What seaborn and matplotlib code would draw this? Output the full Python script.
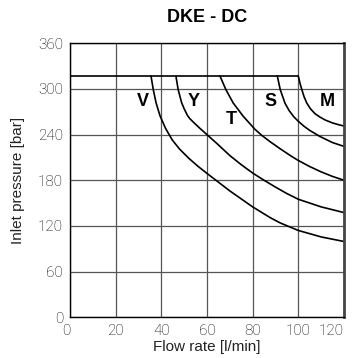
import numpy as np
import pandas as pd
import matplotlib
matplotlib.use("Agg")
import matplotlib.pyplot as plt
import seaborn as sns

# pressure limit line (relief setting)
limit_x = [0, 100]
limit_y = [317, 317]

# curves
v_x = [35.5, 36.0, 36.5, 37.7, 39.4, 41.9, 44.8, 48, 52, 56, 60, 63.5, 70, 80, 87.6, 92, 100, 110, 120]
v_y = [317, 308, 299, 282, 265, 248, 233, 221, 209, 198.5, 189, 181, 166, 145, 131, 124, 114, 105.5, 99.5]
y_x = [46.4, 47.4, 48.9, 50, 51.5, 52.5, 54, 57, 60, 65, 70, 75, 80, 85, 90, 95, 100, 110, 120]
y_y = [317, 299, 282, 274, 265, 261, 256.5, 248, 240, 226.5, 212.5, 200.5, 189.5, 180, 171, 162.5, 155, 145, 137.5]
t_x = [65.7, 68.3, 71.5, 75.9, 81, 84, 87.5, 92, 97, 100, 105, 110, 115, 120]
t_y = [317, 299, 281.5, 264, 247, 239, 231, 221.5, 211.5, 206, 198, 191, 185, 180]
s_x = [90.8, 92.1, 94.2, 96, 98, 100, 102.5, 105, 109.5, 115, 120]
s_y = [317, 299, 281, 271.5, 263.5, 257.5, 251, 245.5, 237.5, 229.5, 224.5]
m_x = [100, 100.7, 101.5, 102.5, 103.7, 105.3, 107.3, 109.5, 111.7, 115, 118.3, 120]
m_y = [317, 308, 299.5, 290, 281.5, 274, 267.5, 263, 259.3, 255.3, 252.5, 251.3]

labels = ["V", "Y", "T", "S", "M"]
label_x = [32, 54, 70.5, 88, 112.7]
label_y = [283, 283, 260, 283, 283]

x_ticks = [0, 20, 40, 60, 80, 100, 120]
y_ticks = [0, 60, 120, 180, 240, 300, 360]

curves = {"V": (v_x, v_y), "Y": (y_x, y_y), "T": (t_x, t_y), "S": (s_x, s_y), "M": (m_x, m_y)}

sns.set_style("white")
plt.rcParams["font.family"] = ["Roboto", "DejaVu Sans"]

fig, ax = plt.subplots(figsize=(3.55, 3.58), dpi=100)
fig.subplots_adjust(left=0.197, right=0.969, top=0.879, bottom=0.114)

ax.set_xlim(0, 120)
ax.set_ylim(0, 360)
ax.set_xticks(x_ticks)
ax.set_yticks(y_ticks)
ax.grid(True, color="#555555", linewidth=0.9)
ax.set_axisbelow(True)

sns.lineplot(x=limit_x, y=limit_y, ax=ax, color="black", linewidth=1.2)
for name, (cx, cy) in curves.items():
    df = pd.DataFrame({"flow": cx, "pressure": cy})
    sns.lineplot(data=df, x="flow", y="pressure", ax=ax, color="black",
                 linewidth=1.2, sort=False, estimator=None)

for lab, lx, ly in zip(labels, label_x, label_y):
    ax.text(lx, ly, lab, ha="center", va="center", fontsize=13,
            fontweight="bold", color="black",
            family=["Liberation Sans", "DejaVu Sans"])

for side in ["left", "bottom", "top"]:
    ax.spines[side].set_color("black")
    ax.spines[side].set_linewidth(1.0)
ax.spines["right"].set_color("#444444")
ax.spines["right"].set_linewidth(2.0)

ax.tick_params(length=0, labelsize=11, pad=5, labelcolor="black")
for lbl in ax.get_xticklabels() + ax.get_yticklabels():
    lbl.set_fontweight("light")
xt = ax.get_xticklabels()
xt[0].set_horizontalalignment("right")
xt[-1].set_horizontalalignment("right")
ax.set_xlabel("Flow rate [l/min]", fontsize=11, labelpad=1, color="#222222",
              family=["Liberation Sans", "DejaVu Sans"])
ax.set_ylabel("Inlet pressure [bar]", fontsize=11, labelpad=9, color="#222222",
              family=["Liberation Sans", "DejaVu Sans"])
ax.set_title("DKE - DC", fontsize=13, fontweight="bold", pad=15, color="black",
             family=["Liberation Sans", "DejaVu Sans"])

fig.savefig("out.png", dpi=100)
